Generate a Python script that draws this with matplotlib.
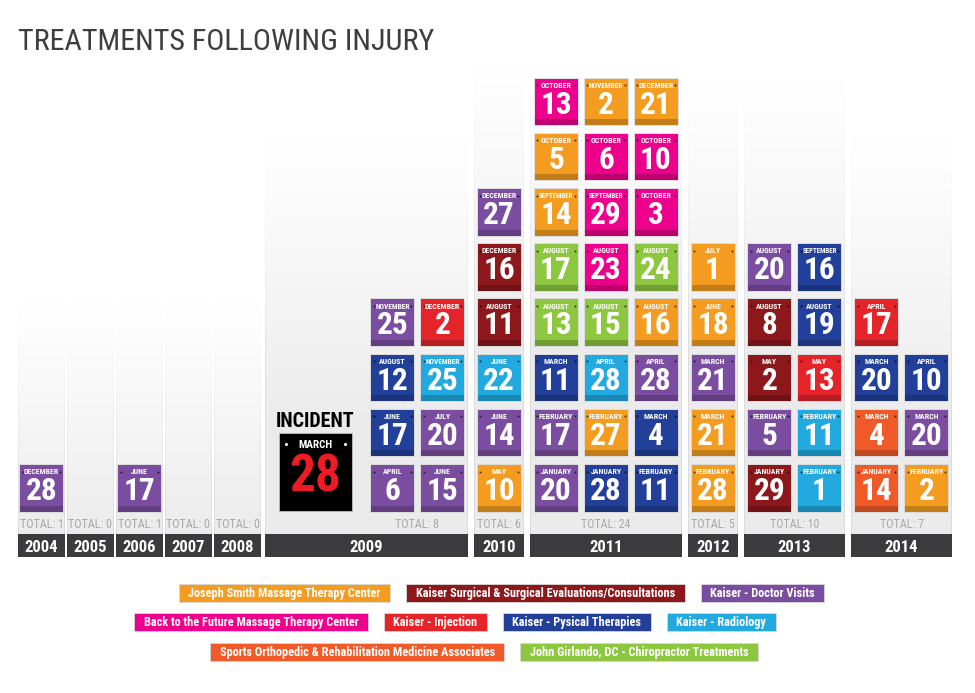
import numpy as np
import matplotlib
matplotlib.use("Agg")
import matplotlib.pyplot as plt
from matplotlib.patches import Rectangle
from matplotlib import font_manager
from matplotlib.colors import to_rgb

# ---- values ----
years = [2004, 2005, 2006, 2007, 2008, 2009, 2010, 2011, 2012, 2013, 2014]
year_ncols = [1, 1, 1, 1, 1, 2, 1, 3, 1, 2, 2]   # calendar columns per year

cat_keys = ["JS", "KS", "KD", "BF", "KI", "KP", "KR", "SO", "JG"]
cat_names = ["Joseph Smith Massage Therapy Center",
             "Kaiser Surgical & Surgical Evaluations/Consultations",
             "Kaiser - Doctor Visits",
             "Back to the Future Massage Therapy Center",
             "Kaiser - Injection",
             "Kaiser - Pysical Therapies",
             "Kaiser - Radiology",
             "Sports Orthopedic & Rehabilitation Medicine Associates",
             "John Girlando, DC - Chiropractor Treatments"]
cat_colors = ["#F39C1F", "#8C181C", "#7B4DA0", "#EC008C", "#E5242A",
              "#22409A", "#22AAE0", "#EF5A28", "#8DC63F"]
legend_rows = [["JS", "KS", "KD"], ["BF", "KI", "KP", "KR"], ["SO", "JG"]]

visit_year = [2004,
              2006,
              2009, 2009, 2009, 2009, 2009, 2009, 2009, 2009,
              2010, 2010, 2010, 2010, 2010, 2010,
              2011, 2011, 2011, 2011, 2011, 2011, 2011, 2011, 2011, 2011, 2011, 2011,
              2011, 2011, 2011, 2011, 2011, 2011, 2011, 2011, 2011, 2011, 2011, 2011,
              2012, 2012, 2012, 2012, 2012,
              2013, 2013, 2013, 2013, 2013, 2013, 2013, 2013, 2013, 2013,
              2014, 2014, 2014, 2014, 2014, 2014, 2014]
visit_month = ["DECEMBER",
               "JUNE",
               "APRIL", "JUNE", "JUNE", "JULY", "AUGUST", "NOVEMBER", "NOVEMBER", "DECEMBER",
               "MAY", "JUNE", "JUNE", "AUGUST", "DECEMBER", "DECEMBER",
               "JANUARY", "JANUARY", "FEBRUARY", "FEBRUARY", "FEBRUARY", "MARCH",
               "MARCH", "APRIL", "APRIL", "AUGUST", "AUGUST", "AUGUST",
               "AUGUST", "AUGUST", "AUGUST", "SEPTEMBER", "SEPTEMBER", "OCTOBER",
               "OCTOBER", "OCTOBER", "OCTOBER", "OCTOBER", "NOVEMBER", "DECEMBER",
               "FEBRUARY", "MARCH", "MARCH", "JUNE", "JULY",
               "JANUARY", "FEBRUARY", "FEBRUARY", "FEBRUARY", "MAY", "MAY",
               "AUGUST", "AUGUST", "AUGUST", "SEPTEMBER",
               "JANUARY", "FEBRUARY", "MARCH", "MARCH", "MARCH", "APRIL", "APRIL"]
visit_day = [28,
             17,
             6, 15, 17, 20, 12, 25, 25, 2,
             10, 14, 22, 11, 16, 27,
             20, 28, 11, 17, 27, 4, 11, 28, 28, 13, 15, 16,
             17, 23, 24, 14, 29, 3, 5, 6, 10, 13, 2, 21,
             28, 21, 21, 18, 1,
             29, 1, 5, 11, 2, 13, 8, 19, 20, 16,
             14, 2, 4, 20, 20, 10, 17]
visit_cat = ["KD",
             "KD",
             "KD", "KD", "KP", "KD", "KP", "KR", "KD", "KI",
             "JS", "KD", "KR", "KS", "KS", "KD",
             "KD", "KP", "KP", "KD", "JS", "KP", "KP", "KR", "KD", "JG", "JG", "JS",
             "JG", "BF", "JG", "JS", "BF", "BF", "JS", "BF", "BF", "BF", "JS", "JS",
             "JS", "JS", "KD", "JS", "JS",
             "KS", "KR", "KD", "KR", "KS", "KI", "KS", "KP", "KD", "KP",
             "SO", "JS", "SO", "KD", "KP", "KP", "KI"]

incident_year = 2009
incident_month = "MARCH"
incident_day = 28

# ---- fonts ----
installed = {f.name for f in font_manager.fontManager.ttflist}
COND = "DejaVu Sans"
for cand in ["Roboto Condensed", "Liberation Sans Narrow", "Open Sans Condensed"]:
    if cand in installed:
        COND = cand
        break
FAM = [COND, "DejaVu Sans"]

fig = plt.figure(figsize=(9.75, 6.93), dpi=100)
ax = fig.add_axes([0, 0, 1, 1])
ax.set_xlim(0, 975)
ax.set_ylim(693, 0)
ax.set_autoscale_on(False)
ax.axis("off")
renderer = fig.canvas.get_renderer()


def fit(t, maxw):
    # shrink a text until it is no wider than maxw pixels
    w = t.get_window_extent(renderer).width
    if w > maxw:
        t.set_fontsize(t.get_fontsize() * maxw / w)
    return t


def shade(c, f):
    r, g, b = to_rgb(c)
    return (r * f, g * f, b * f)


color_of = dict(zip(cat_keys, cat_colors))

# layout
CELL_W, CELL_H, PITCH_X, PITCH_Y = 43, 46.5, 50, 55.2
ROW0_TOP = 465
BAR_TOP, BAR_BOT = 534, 557

col_span = {}
x = 18.0
for yr, nc in zip(years, year_ncols):
    if yr <= 2008:
        w = 47
    else:
        w = 51 * nc - 1 + (102 if yr == incident_year else 0)
    col_span[yr] = (x, x + w)
    x += w + (2 if yr < 2008 else (4 if yr == 2008 else 6))

# ---- title ----
t = ax.text(18, 50, "TREATMENTS FOLLOWING INJURY", fontsize=25, color="#3e3e40",
            family=FAM, ha="left", va="baseline")
fit(t, 417)


def draw_cell(x0, top, color, month, day):
    ax.add_patch(Rectangle((x0 - 1, top - 1), CELL_W + 2, CELL_H + 2, fc="#cfcfcf",
                           ec="none", alpha=0.6, zorder=3))
    ax.add_patch(Rectangle((x0, top), CELL_W, CELL_H, fc=color, ec="none", zorder=4))
    dark = shade(color, 0.8)
    ax.add_patch(Rectangle((x0, top + CELL_H - 6), CELL_W, 6, fc=dark, ec="none", zorder=5))
    ax.plot([x0 + 2.6, x0 + CELL_W - 2.6], [top + 6.5, top + 6.5], ls="none", marker="o",
            ms=1.5, mfc=shade(color, 0.35), mec="none", zorder=6)
    m = ax.text(x0 + CELL_W / 2, top + 9.2, month, fontsize=5.7, fontweight="bold",
                color="white", family=FAM, ha="center", va="baseline", zorder=6)
    fit(m, CELL_W - 8)
    d = ax.text(x0 + CELL_W / 2, top + 35, str(day), fontsize=22.5, fontweight="bold",
                color="white", family=FAM, ha="center", va="baseline", zorder=6)
    fit(d, 33)


for yr, nc in zip(years, year_ncols):
    left, right = col_span[yr]
    idx = [i for i, v in enumerate(visit_year) if v == yr]
    nrows = max(1, int(np.ceil(len(idx) / nc)))
    if yr == incident_year:
        nrows = max(nrows, 2)

    # panel with vertical gradient
    top = max(65, ROW0_TOP - (nrows - 1) * PITCH_Y - 165)
    H = int(BAR_BOT - top)
    W = max(2, int(round(right - left)))
    tt = np.clip(np.arange(H) / min(280.0, H * 0.9), 0, 1) ** 1.1
    img = np.ones((H, W, 3))
    g = 1 - tt * (1 - 0.925)
    ge = 1 - tt * (1 - 0.86)
    img[:, :, :] = g[:, None, None]
    img[:, 0, :] = ge[:, None]
    img[:, -1, :] = ge[:, None]
    ax.imshow(img, extent=(left, right, BAR_BOT, top), aspect="auto",
              interpolation="bilinear", zorder=1)

    # year bar
    ax.add_patch(Rectangle((left, BAR_TOP), right - left, BAR_BOT - BAR_TOP,
                           fc="#3b3b3d", ec="none", zorder=2))
    ax.text((left + right) / 2, 551.5, str(yr), fontsize=12, fontweight="bold",
            color="white", family=FAM, ha="center", va="baseline", zorder=3)

    # calendar cells, filled left to right, bottom to top
    if yr == incident_year:
        region = (left + 102, right)
    else:
        region = (left, right)
    block_w = CELL_W + (nc - 1) * PITCH_X
    cx = (region[0] + region[1]) / 2
    bx = cx - block_w / 2
    for k, i in enumerate(idx):
        r, c = divmod(k, nc)
        draw_cell(bx + c * PITCH_X, ROW0_TOP - r * PITCH_Y, color_of[visit_cat[i]],
                  visit_month[i], visit_day[i])

    tot = ax.text(cx, 527.5, f"TOTAL: {len(idx)}", fontsize=10.2, color="#a9a9a9",
                  family=FAM, ha="center", va="baseline", zorder=3)
    fit(tot, 44 if len(idx) < 10 else 49)

    # incident calendar
    if yr == incident_year:
        ix0, iw, itop, ih = left + 14, 73, 433, 78
        ax.add_patch(Rectangle((ix0, itop), iw, ih, fc="black", ec="#bdbdbd", lw=0.6, zorder=4))
        it = ax.text(ix0 + iw / 2, 427, "INCIDENT", fontsize=14.5, fontweight="bold",
                     color="black", family=FAM, ha="center", va="baseline", zorder=5)
        fit(it, 80)
        mt = ax.text(ix0 + iw / 2, 447.5, incident_month, fontsize=8.2, fontweight="bold",
                     color="white", family=FAM, ha="center", va="baseline", zorder=5)
        fit(mt, 34)
        ax.plot([ix0 + 7, ix0 + iw - 7], [443.5, 443.5], ls="none", marker="o", ms=2.2,
                mfc="white", mec="none", zorder=5)
        dt = ax.text(ix0 + iw / 2, 492, str(incident_day), fontsize=37, fontweight="bold",
                     color="#ED1C24", family=FAM, ha="center", va="baseline", zorder=5)
        fit(dt, 54)

# ---- legend boxes ----
row_start = [179, 134, 210]
row_mid = [593, 621.5, 651.5]
PAD, GAP = 9.5, 16
name_of = dict(zip(cat_keys, cat_names))
for keys, x0, ym in zip(legend_rows, row_start, row_mid):
    xc = x0
    for k in keys:
        lt = ax.text(xc + PAD, ym + 4.3, name_of[k], fontsize=8.8, fontweight="bold",
                     color="white", family=FAM, ha="left", va="baseline", zorder=5)
        tw = lt.get_window_extent(renderer).width
        ax.add_patch(Rectangle((xc, ym - 9), tw + 2 * PAD, 18, fc=color_of[k],
                               ec="#d8d8d8", lw=0.6, zorder=4))
        xc += tw + 2 * PAD + GAP

fig.savefig("out.png", dpi=100, facecolor="white")
